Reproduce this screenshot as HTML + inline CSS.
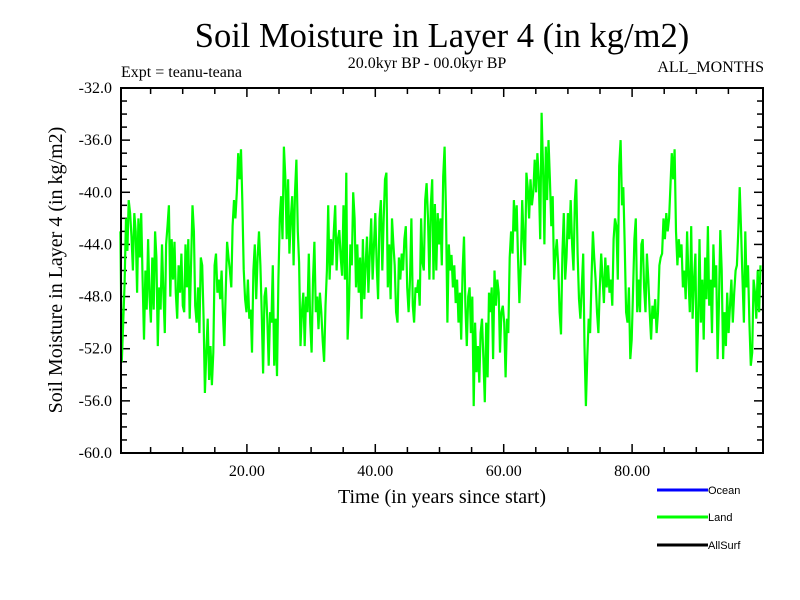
<!DOCTYPE html>
<html><head><meta charset="utf-8"><style>
html,body{margin:0;padding:0;background:#fff;}
svg{display:block;font-family:"Liberation Serif",serif;}
</style></head><body>
<svg id="chart" width="800" height="600" viewBox="0 0 800 600">
<text x="442" y="47" font-size="34.5" text-anchor="middle">Soil Moisture in Layer 4 (in kg/m2)</text>
<text x="427" y="68" font-size="16" text-anchor="middle">20.0kyr BP - 00.0kyr BP</text>
<text x="121" y="77" font-size="16">Expt = teanu-teana</text>
<text x="764" y="72" font-size="16" text-anchor="end">ALL_MONTHS</text>
<g id="axes"></g>
<g id="series"></g>
<rect x="121" y="88" width="642" height="365" fill="none" stroke="#000" stroke-width="2"/>
<text x="442" y="503" font-size="20" text-anchor="middle">Time (in years since start)</text>
<text transform="translate(62,270) rotate(-90)" font-size="20" text-anchor="middle">Soil Moisture in Layer 4 (in kg/m2)</text>
<g font-family="Liberation Sans, sans-serif" font-size="11">
<line x1="657" y1="490" x2="708" y2="490" stroke="#0000ff" stroke-width="3"/>
<text x="708" y="494">Ocean</text>
<line x1="657" y1="517" x2="708" y2="517" stroke="#00ff00" stroke-width="3"/>
<text x="708" y="521">Land</text>
<line x1="657" y1="545" x2="708" y2="545" stroke="#000" stroke-width="3"/>
<text x="708" y="549">AllSurf</text>
</g>
</svg>
<script>
const xTickValues = [20, 40, 60, 80];
const xTickLabels = ["20.00", "40.00", "60.00", "80.00"];
const yTickValues = [-32, -36, -40, -44, -48, -52, -56, -60];
const yTickLabels = ["-32.0", "-36.0", "-40.0", "-44.0", "-48.0", "-52.0", "-56.0", "-60.0"];
const timeStart = 0.3;
const timeEnd = 100;
const landValues = [
-43,-53,-50,-47,-42,-44.5,-40.6,-41.6,-43.4,-46,-41.6,-43,-47.7,-42,-45,-41.6,-46.7,
-51.3,-46,-49,-43.6,-48,-50,-45,-49,-43,-45,-51.8,-47.3,-49,-44,-47.7,-50.8,-44,-42.6,-41,-48,
-43.6,-46.7,-43.8,-47.7,-49.7,-45.6,-47.7,-44.7,-48.7,-49.2,-44,-47.3,-43.6,-49.7,-45.4,-41,-43,-48.7,-50,
-47.3,-50.8,-45,-45.6,-49.7,-55.4,-52.3,-49.7,-54.4,-51.8,-54.8,-52.3,-45.6,-44.7,-47.7,
-46.7,-48.2,-46,-49.2,-51.8,-47.7,-43.8,-45,-46,-47.3,-42.6,-40.6,-42,-40,
-37,-39,-36.7,-40.6,-45.9,-48.2,-49.2,-46.7,-49.7,-49,-52.3,-46,-44,-48.2,-45,
-43,-45.6,-49.2,-53.9,-48,-47.3,-49.7,-53.3,-49.2,-50,-45.6,-53.3,-49.7,
-54.1,-46.7,-42,-40.3,-43.6,-36.5,-38.8,-43.6,-39,-44.7,-42,-40.3,-45.6,-40,
-37.5,-43,-45.4,-51.8,-49.2,-47.7,-51.8,-48,-49.2,-44.7,-50,-52.3,-46.7,-43.8,-49.2,
-48,-50.5,-47.7,-49.2,-51.4,-53,-48.7,-46,-41,-46.7,-43.6,-45.6,-43,-41,-46,-43.6,
-42.9,-45,-46.4,-41,-46.7,-38.5,-51.3,-48.7,-44,-45.6,-40,-42,-47.3,-44,
-47.7,-45,-49.7,-43.6,-48.2,-45.6,-43.4,-47.7,-44.7,-42,-46.7,-44,-41.6,-45.6,
-48.2,-42,-40.6,-46,-42,-39,-38.5,-47.3,-44,-48.2,-42,-44,-45.6,
-49.2,-50,-45,-46.7,-44.7,-46,-43.6,-42.6,-47.3,-49.2,-46.7,-42,-48.7,
-50,-47.3,-47.7,-46.7,-48.7,-42,-45.4,-46,-40.6,-39.3,-42,-46.7,-41,
-39,-46.7,-40.9,-46,-41.6,-44,-42,-45.6,-38.8,-36.5,-41.6,-50,-44,-46,-44.8,-47.3,
-45.6,-48.5,-46.7,-50,-47.7,-51.3,-46,-43.4,-48.7,-51.8,-48,-47.3,-50.8,-48,
-56.4,-50,-53.8,-51.8,-54.6,-50.8,-49.7,-52.8,-56.1,-50,-54.2,-47.7,-49.2,-47.3,-52.8,
-46,-48.7,-46.7,-47.7,-52.3,-49.2,-48.7,-50,-54.2,-49.7,-50.8,-45,-43,-44.7,
-40.6,-43,-41,-45,-48.5,-45.6,-40.6,-43.6,-45.6,-38.5,-39.6,-42,-39,-41,-40,
-37.5,-40,-37,-39,-43.6,-33.9,-38,-44,-36.5,-40.6,-36,-39,-42.6,-40.3,
-46.7,-44.7,-43.6,-45.6,-49.2,-50.9,-44.7,-41.6,-46.7,-45,-41.6,-43.6,-40.6,-44,-46,
-40.6,-39,-44.7,-48.2,-49.7,-47.3,-44.7,-51.8,-56.4,-52.6,-49.7,-50.8,-46.7,-43,-45,
-46.7,-49.2,-50.8,-47.3,-44.7,-46.7,-48.5,-45,-47.3,-45.6,-47.7,-46.7,-48.7,-43.6,-42,
-42.6,-46.7,-38,-36,-41,-39.6,-44,-49.2,-50,-47.3,-52.8,-51.3,-47.7,-43.6,
-42,-49.2,-46.7,-49.2,-44,-43.6,-47.3,-49.2,-44.7,-46.7,-49.2,-51.3,-48.7,-49.7,-48.2,
-50.8,-49.2,-45.6,-45,-44.7,-42,-43.6,-41.6,-43,-42,-39.6,-37,-39,-36.7,-43,
-45.6,-43.6,-45,-44,-47.3,-46,-48.2,-43,-46.7,-49.2,-42.6,-49.7,-46.7,-44.7,
-53.8,-49.7,-43.6,-50,-46.7,-51.3,-45,-48.2,-42.6,-48.7,-46.7,-50.8,-44,-47.3,-45.6,
-52.8,-48.7,-42.9,-46,-52.8,-49.2,-51.8,-47.7,-50.8,-48.7,-46.7,-50,-47.7,-46,-45.6,
-43,-39.6,-43,-46.7,-50,-43,-47.3,-45.6,-50,-53.3,-52.3,-46.7,-47.7,-49.7,-46,-49.2,-45.6
];
const X0 = 121, X1 = 763, Y0 = 88, Y1 = 453;
const xMin = 0, xMax = 100, yMin = -60, yMax = -32;
function xScale(v){ return X0 + (v - xMin) / (xMax - xMin) * (X1 - X0) - 2.5; }
function yScale(v){ return Y1 - (v - yMin) / (yMax - yMin) * (Y1 - Y0); }
const NS = "http://www.w3.org/2000/svg";
const axes = document.getElementById("axes");
function mk(tag, attrs, parent){ const e = document.createElementNS(NS, tag); for (const k in attrs) e.setAttribute(k, attrs[k]); parent.appendChild(e); return e; }
for (let y = yMin; y <= yMax; y += 1) {
  const py = yScale(y); const major = (y % 4 === 0);
  const len = major ? 9 : 6;
  const t1 = mk("line", {x1: X0, x2: X0 + len, y1: py, y2: py, stroke: "#000", "stroke-width": 1.5}, axes);
  
  
  const t2 = mk("line", {x1: X1 - len, x2: X1, y1: py, y2: py, stroke: "#000", "stroke-width": 1.5}, axes);
  
  
}
for (let x = 5; x < xMax; x += 5) {
  const px = xScale(x); const major = (x % 20 === 0);
  const len = major ? 9 : 6;
  const t1 = mk("line", {x1: px, x2: px, y1: Y1, y2: Y1 - len, stroke: "#000", "stroke-width": 1.5}, axes);
  
  
  const t2 = mk("line", {x1: px, x2: px, y1: Y0, y2: Y0 + len, stroke: "#000", "stroke-width": 1.5}, axes);
  
  
}
yTickValues.forEach((v, i) => {
  const t = mk("text", {x: 112, y: yScale(v) + 5, "font-size": 16, "text-anchor": "end"}, axes);
  t.textContent = yTickLabels[i];
  
  
});
xTickValues.forEach((v, i) => {
  const t = mk("text", {x: xScale(v), y: 476, "font-size": 16, "text-anchor": "middle"}, axes);
  t.textContent = xTickLabels[i];
  
  
});
const n = landValues.length;
let d = "";
landValues.forEach((v, i) => {
  const t = timeStart + (timeEnd - timeStart) * i / (n - 1);
  d += (i ? "L" : "M") + xScale(t).toFixed(1) + "," + yScale(v).toFixed(1);
});
const path = mk("path", {d: d, fill: "none", stroke: "#00ff00", "stroke-width": 2.2, "stroke-linejoin": "miter"}, document.getElementById("series"));


</script>
</body></html>
